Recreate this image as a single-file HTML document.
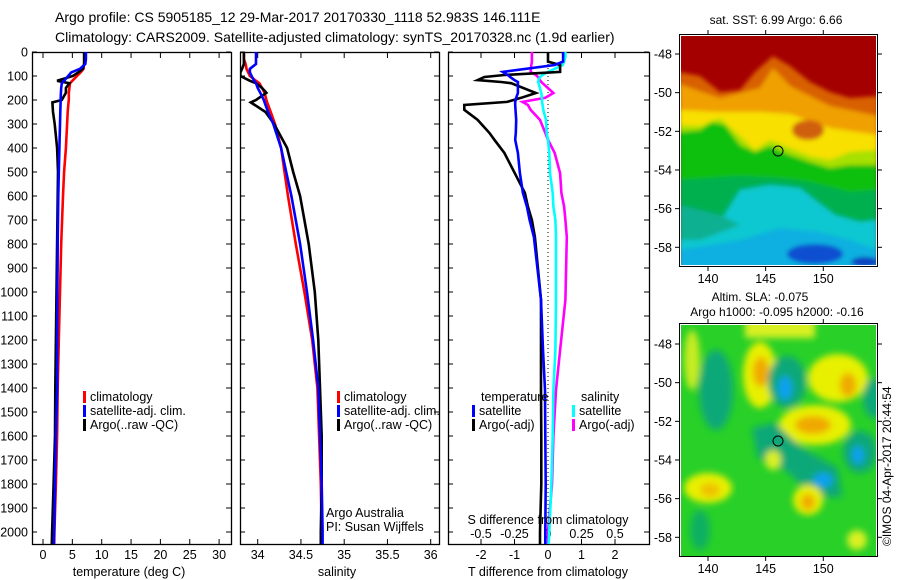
<!DOCTYPE html>
<html><head><meta charset="utf-8">
<style>
html,body{margin:0;padding:0;background:#fff;}
svg{display:block;font-family:"Liberation Sans",sans-serif;}
</style></head>
<body>
<svg id="fig" width="900" height="580" viewBox="0 0 900 580">
<defs>
<clipPath id="cp1"><rect x="32" y="52" width="199" height="493"/></clipPath>
<clipPath id="cp2"><rect x="240" y="52" width="199" height="493"/></clipPath>
<clipPath id="cp3"><rect x="448" y="52" width="201" height="493"/></clipPath>
<clipPath id="cm1"><rect x="681" y="36" width="195" height="229"/></clipPath>
<clipPath id="cm2"><rect x="681" y="325" width="195" height="231"/></clipPath>
<filter id="bl1"><feGaussianBlur stdDeviation="2"/></filter>
<filter id="bl2"><feGaussianBlur stdDeviation="3.5"/></filter>
</defs>
<text x="55" y="22" font-size="14">Argo profile: CS 5905185_12 29-Mar-2017 20170330_1118 52.983S 146.111E</text>
<text x="55" y="42" font-size="14">Climatology: CARS2009. Satellite-adjusted climatology: synTS_20170328.nc (1.9d earlier)</text>

<g id="p1"></g>
<g id="p2"></g>
<g id="p3"></g>

<!-- SST map -->
<g>
<text x="776" y="24" font-size="12" text-anchor="middle">sat. SST: 6.99 Argo: 6.66</text>
<g clip-path="url(#cm1)">
<rect x="679" y="34" width="199" height="233" fill="#a40000"/>
<g filter="url(#bl1)">
<polygon fill="#d86000" points="679,72 700,76 720,92 740,90 755,72 773,56 790,66 810,82 830,92 850,98 878,96 878,270 679,270"/>
<polygon fill="#f0a000" points="679,84 720,98 760,88 773,68 790,86 830,106 878,116 878,270 679,270"/>
<polygon fill="#f8e000" points="679,110 720,112 760,112 790,114 830,128 878,135 878,270 679,270"/>
<ellipse cx="808" cy="130" rx="16" ry="10" fill="#d06010"/>
<polygon fill="#a8e000" points="679,125 700,126 720,118 740,136 755,150 770,140 790,148 810,156 830,160 850,152 878,150 878,270 679,270"/>
<polygon fill="#10c010" points="679,132 700,130 712,122 725,125 740,145 755,152 770,146 790,155 810,162 830,168 850,165 878,165 878,270 679,270"/>
<polygon fill="#00b050" points="679,180 740,176 780,178 810,182 850,192 878,190 878,270 679,270"/>
<polygon fill="#10c8d0" points="740,190 770,185 800,188 815,200 835,215 860,222 878,220 878,270 679,270 679,225 720,222"/>
<polygon fill="#10b090" points="679,205 720,215 740,225 700,240 679,240"/>
<polygon fill="#10b0e0" points="679,250 740,240 780,228 820,232 850,240 878,250 878,270 679,270"/>
<ellipse cx="815" cy="254" rx="28" ry="10" fill="#1050d0"/>
<ellipse cx="865" cy="262" rx="14" ry="5" fill="#1040c0"/>
</g>
<circle cx="778" cy="151" r="5" fill="none" stroke="#000" stroke-width="1"/>
</g>
<rect x="679.5" y="34.5" width="198" height="232" fill="none" stroke="#000"/>
<g id="m1ax"></g>
</g>

<!-- SLA map -->
<g>
<text x="760" y="301" font-size="12" text-anchor="middle">Altim. SLA: -0.075</text>
<text x="777" y="316" font-size="12" text-anchor="middle">Argo h1000: -0.095 h2000: -0.16</text>
<g clip-path="url(#cm2)">
<rect x="679" y="323" width="199" height="235" fill="#28d028"/>
<g filter="url(#bl2)">
<rect x="745" y="318" width="70" height="20" fill="#d8f020"/>
<ellipse cx="692" cy="360" rx="8" ry="30" fill="#c8ec20"/>
<ellipse cx="716" cy="390" rx="17" ry="40" fill="#10a878"/>
<ellipse cx="760" cy="375" rx="17" ry="33" fill="#e8f000"/>
<ellipse cx="761" cy="372" rx="8" ry="15" fill="#f0a800"/>
<ellipse cx="787" cy="382" rx="19" ry="26" fill="#10a878"/>
<ellipse cx="785" cy="388" rx="7" ry="12" fill="#10a0f0"/>
<ellipse cx="838" cy="378" rx="30" ry="24" fill="#e8f000"/>
<ellipse cx="848" cy="385" rx="8" ry="12" fill="#f0a800"/>
<ellipse cx="874" cy="398" rx="11" ry="20" fill="#10a878"/>
<ellipse cx="815" cy="425" rx="36" ry="20" fill="#e8f000"/>
<ellipse cx="813" cy="425" rx="18" ry="9" fill="#f0a800"/>
<polygon points="752,428 775,423 802,448 838,468 842,497 812,497 788,472 758,458" fill="#10a878"/>
<ellipse cx="823" cy="480" rx="10" ry="7" fill="#10a0f0"/>
<ellipse cx="860" cy="452" rx="17" ry="21" fill="#10a878"/>
<ellipse cx="858" cy="455" rx="6" ry="9" fill="#10a0f0"/>
<ellipse cx="708" cy="488" rx="24" ry="15" fill="#e8f000"/>
<ellipse cx="710" cy="490" rx="10" ry="7" fill="#f0c000"/>
<ellipse cx="808" cy="500" rx="15" ry="15" fill="#e8f000"/>
<ellipse cx="808" cy="502" rx="7" ry="8" fill="#f0a800"/>
<ellipse cx="773" cy="460" rx="8" ry="10" fill="#d8f020"/>
<ellipse cx="857" cy="540" rx="10" ry="10" fill="#d8f020"/>
<ellipse cx="700" cy="530" rx="10" ry="20" fill="#10b060"/>
</g>
<circle cx="778" cy="441" r="5" fill="none" stroke="#000" stroke-width="1"/>
</g>
<rect x="679.5" y="323.5" width="198" height="233" fill="none" stroke="#000"/>
<g id="m2ax"></g>
<text transform="translate(891,546) rotate(-90)" font-size="12">©IMOS 04-Apr-2017 20:44:54</text>
</g>
</svg>
<script>
// depth grid for profiles (m)
const depths = [0,30,50,70,85,100,120,130,150,170,200,210,250,300,400,500,600,800,1000,1200,1400,1600,1800,2000,2050];
// temperature (deg C)
const tempClim = [7.1,7.1,7.0,6.9,6.4,5.8,5.0,4.6,4.5,4.4,4.4,4.35,4.2,4.1,3.9,3.6,3.4,3.1,2.9,2.7,2.5,2.4,2.2,1.95,1.9];
const tempSat  = [7.3,7.3,7.2,6.3,4.8,4.3,3.6,3.2,3.1,3.05,3.0,3.0,2.95,2.9,2.8,2.7,2.6,2.5,2.45,2.42,2.4,2.2,2.05,1.9,1.85];
const tempArgo = [7.0,7.0,7.0,6.8,6.0,5.1,2.4,4.5,3.9,3.9,3.2,1.6,1.7,2.0,2.4,2.55,2.5,2.4,2.3,2.2,2.1,2.05,1.8,1.55,1.5];
// salinity
const salClim = [33.84,33.84,33.86,33.87,33.89,33.91,33.98,34.02,34.05,34.08,34.1,34.11,34.15,34.2,34.27,34.31,34.35,34.44,34.54,34.63,34.69,34.71,34.73,34.74,34.74];
const salSat  = [33.98,33.98,33.98,33.91,33.91,33.93,33.96,33.98,34.0,34.03,34.07,34.08,34.12,34.18,34.27,34.33,34.39,34.49,34.57,34.64,34.70,34.72,34.74,34.75,34.75];
const salArgo = [33.84,33.84,33.84,33.82,33.80,33.80,33.91,33.98,34.05,34.1,33.98,33.92,34.09,34.19,34.34,34.41,34.49,34.59,34.66,34.70,34.72,34.74,34.74,34.73,34.73];
// differences from climatology
const dDepths = [0,20,40,54,83,96,104,117,125,130,171,191,208,221,241,283,337,366,421,505,587,644,700,771,1033,1242,1408,1600,1800,2000,2050];
const dTsat  = [0.45,0.45,0.45,0.2,-1.35,-1.2,-1.13,-1.0,-0.9,-0.9,-0.9,-0.95,-0.98,-0.98,-0.97,-0.95,-0.96,-0.98,-0.9,-0.84,-0.75,-0.63,-0.55,-0.42,-0.21,-0.15,-0.09,-0.08,-0.07,-0.08,-0.08];
const dTargo = [0.0,0.0,0.0,0.36,0.36,-1.3,-1.9,-2.1,-1.4,-1.1,-0.36,-0.8,-1.22,-2.5,-2.5,-2.1,-1.75,-1.6,-1.3,-0.99,-0.69,-0.6,-0.48,-0.39,-0.21,-0.21,-0.21,-0.2,-0.2,-0.24,-0.24];
const dSsat  = [0.13,0.13,0.12,0.11,0.0,-0.04,-0.06,-0.07,-0.075,-0.07,-0.05,-0.045,-0.045,-0.04,-0.035,-0.015,-0.01,0.0,0.01,0.015,0.035,0.04,0.055,0.06,0.06,0.055,0.04,0.035,0.025,0.01,0.005];
const dSargo = [-0.12,-0.12,-0.12,-0.125,-0.13,-0.09,-0.075,-0.06,-0.05,-0.04,0.04,-0.02,-0.19,-0.15,-0.13,-0.06,-0.02,0.0,0.05,0.09,0.1,0.12,0.13,0.14,0.13,0.09,0.06,0.04,0.03,0.0,0.0];
// tick labels
const depthTicks = [0,100,200,300,400,500,600,700,800,900,1000,1100,1200,1300,1400,1500,1600,1700,1800,1900,2000];
const tempTicks = [0,5,10,15,20,25,30];
const salTicks = [34,34.5,35,35.5,36];
const dTTicks = [-2,-1,0,1,2];
const dSTicks = [-0.5,-0.25,0,0.25,0.5];
const dSTickLabels = ["-0.5","-0.25","0","0.25","0.5"];
const lonTicks = [140,145,150];
const latTicks = [-48,-50,-52,-54,-56,-58];

const NS='http://www.w3.org/2000/svg';
function mk(tag, attrs, parent, txt){const e=document.createElementNS(NS,tag);for(const k in attrs)e.setAttribute(k,attrs[k]);if(txt!==undefined)e.textContent=txt;parent.appendChild(e);return e;}
const yD = d => 52 + 0.24*d;
const xT = t => 43 + 5.87*t;
const xS = s => 257.7 + 86.5*(s-34);
const xDT = v => 548 + 33.5*v;
const xDS = v => 548 + 134*v;

function frame(g, x0, x1, name){
  const r=mk('rect',{x:x0+0.5,y:52.5,width:x1-x0,height:492,fill:'none',stroke:'#000','stroke-width':1.3},g);
  
  
  depthTicks.forEach(d=>{
    const y=yD(d);
    mk('line',{x1:x0,y1:y,x2:x0+5,y2:y,stroke:'#000'},g);
    mk('line',{x1:x1,y1:y,x2:x1-5,y2:y,stroke:'#000'},g);
  });
}
function line(g, xs, ds, fx, color, name, clip, w){
  const pts=xs.map((v,i)=>fx(v).toFixed(1)+','+yD(ds[i]).toFixed(1)).join(' ');
  const p=mk('polyline',{points:pts,fill:'none',stroke:color,'stroke-width':w||2.6,'stroke-linejoin':'miter','clip-path':clip},g);
  
  
}
function xtick(g,x,label,ylab){
  mk('line',{x1:x,y1:52,x2:x,y2:58,stroke:'#000'},g);
  mk('line',{x1:x,y1:545,x2:x,y2:539,stroke:'#000'},g);
  if(label!==null){const t=mk('text',{x:x,y:ylab,'font-size':12.5,'text-anchor':'middle'},g,label);
  
  }
}
function legend(g,x,y,color,label){
  mk('rect',{x:x,y:y-10,width:3,height:12,fill:color},g);
  const t=mk('text',{x:x+7,y:y,'font-size':12.5},g,label);
  
  
}

// Panel 1
const p1=document.getElementById('p1');
depthTicks.forEach(d=>{const t=mk('text',{x:28,y:yD(d)+4.5,'font-size':12.5,'text-anchor':'end'},p1,String(d));
  
  });
frame(p1,32,231,'temperature');
tempTicks.forEach(t=>xtick(p1,xT(t),String(t),559));
line(p1,tempClim,depths,xT,'#f00','temp-climatology-line','url(#cp1)');
line(p1,tempArgo,depths,xT,'#000','temp-argo-line','url(#cp1)');
line(p1,tempSat,depths,xT,'#00f','temp-satellite-line','url(#cp1)');
legend(p1,83,401,'#f00','climatology');
legend(p1,83,415,'#00f','satellite-adj. clim.');
legend(p1,83,429,'#000','Argo(..raw -QC)');
let tt=mk('text',{x:129,y:576,'font-size':12.5,'text-anchor':'middle'},p1,'temperature (deg C)');


// Panel 2
const p2=document.getElementById('p2');
frame(p2,240,439,'salinity');
salTicks.forEach(s=>xtick(p2,xS(s),String(s),559));
line(p2,salClim,depths,xS,'#f00','sal-climatology-line','url(#cp2)');
line(p2,salArgo,depths,xS,'#000','sal-argo-line','url(#cp2)');
line(p2,salSat,depths,xS,'#00f','sal-satellite-line','url(#cp2)');
legend(p2,337,401,'#f00','climatology');
legend(p2,337,415,'#00f','satellite-adj. clim.');
legend(p2,337,429,'#000','Argo(..raw -QC)');
tt=mk('text',{x:326,y:517,'font-size':12.5},p2,'Argo Australia');

tt=mk('text',{x:326,y:531,'font-size':12.5},p2,'PI: Susan Wijffels');

tt=mk('text',{x:337,y:576,'font-size':12.5,'text-anchor':'middle'},p2,'salinity');


// Panel 3
const p3=document.getElementById('p3');
frame(p3,448,649,'difference');
mk('line',{x1:548,y1:52,x2:548,y2:545,stroke:'#000','stroke-dasharray':'1,3'},p3);
dTTicks.forEach(v=>xtick(p3,xDT(v),String(v),559));
dSTicks.forEach((v,i)=>{const t=mk('text',{x:xDS(v),y:538,'font-size':12.5,'text-anchor':'middle'},p3,dSTickLabels[i]);
  
  });
line(p3,dSargo,dDepths,xDS,'#f0f','sal-diff-argo-line','url(#cp3)');
line(p3,dSsat,dDepths,xDS,'#0ff','sal-diff-satellite-line','url(#cp3)');
line(p3,dTargo,dDepths,xDT,'#000','temp-diff-argo-line','url(#cp3)');
line(p3,dTsat,dDepths,xDT,'#00f','temp-diff-satellite-line','url(#cp3)');
tt=mk('text',{x:481,y:401,'font-size':12.5},p3,'temperature');

tt=mk('text',{x:581,y:401,'font-size':12.5},p3,'salinity');

legend(p3,472,415,'#00f','satellite');
legend(p3,472,429,'#000','Argo(-adj)');
legend(p3,572,415,'#0ff','satellite');
legend(p3,572,429,'#f0f','Argo(-adj)');
tt=mk('text',{x:548,y:524,'font-size':12.5,'text-anchor':'middle'},p3,'S difference from climatology');

tt=mk('text',{x:548,y:576,'font-size':12.5,'text-anchor':'middle'},p3,'T difference from climatology');


// map axes
function mapAxes(id, top, bot, lat48y, latStep, lonLabY){
  const g=document.getElementById(id);
  const xL = l => 708 + 11.53*(l-140);
  const yL = la => lat48y + latStep*(-48-la);
  lonTicks.forEach(l=>{
    mk('line',{x1:xL(l),y1:top,x2:xL(l),y2:top-4,stroke:'#000'},g);
    mk('line',{x1:xL(l),y1:bot,x2:xL(l),y2:bot+4,stroke:'#000'},g);
    const t=mk('text',{x:xL(l),y:lonLabY,'font-size':12.5,'text-anchor':'middle'},g,String(l));
    
    
  });
  latTicks.forEach(la=>{
    mk('line',{x1:679,y1:yL(la),x2:675,y2:yL(la),stroke:'#000'},g);
    mk('line',{x1:878,y1:yL(la),x2:882,y2:yL(la),stroke:'#000'},g);
    const t=mk('text',{x:672,y:yL(la)+4.5,'font-size':12.5,'text-anchor':'end'},g,String(la));
    
    
  });
}
mapAxes('m1ax',34,267,54,19.33,283);
mapAxes('m2ax',323,557,344,19.33,573);
</script>
</body></html>
